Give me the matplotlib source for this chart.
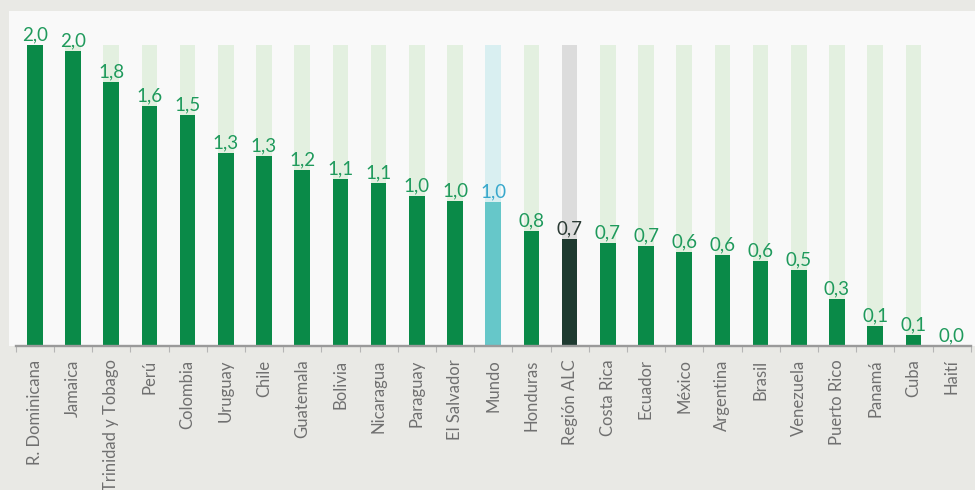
import matplotlib
matplotlib.use("Agg")
import matplotlib.pyplot as plt
from matplotlib.patches import Rectangle
from matplotlib.ticker import FixedLocator


# ------------------ DATA ------------------

countries = [
    "R. Dominicana", "Jamaica", "Trinidad y Tobago", "Perú", "Colombia",
    "Uruguay", "Chile", "Guatemala", "Bolivia", "Nicaragua", "Paraguay",
    "El Salvador", "Mundo", "Honduras", "Región ALC", "Costa Rica",
    "Ecuador", "México", "Argentina", "Brasil", "Venezuela", "Puerto Rico",
    "Panamá", "Cuba", "Haití",
]
values = [
    2.00, 1.96, 1.75, 1.59, 1.53,
    1.28, 1.26, 1.17, 1.11, 1.08, 0.996,
    0.96, 0.955, 0.76, 0.71, 0.68,
    0.66, 0.62, 0.60, 0.56, 0.50, 0.31,
    0.13, 0.07, 0.0,
]
# background track shown behind every bar except Haití
has_track = [True] * 24 + [False]
track_max = 2.0


# ------------------ STYLE ------------------

FONT = ["Lato", "DejaVu Sans"]
OUTER_BG = "#e9e9e5"
PANEL_BG = "#f9f9f9"

bar_colors = {"Mundo": "#66c7c9", "Región ALC": "#1e3a30"}
track_colors = {"Mundo": "#d9eff1", "Región ALC": "#dcdcdc"}
label_colors = {"Mundo": "#38a8cc", "Región ALC": "#2c3b35"}
DEFAULT_BAR = "#0a8a48"
DEFAULT_TRACK = "#e3f0e0"
DEFAULT_LABEL = "#1f9a5c"


def fmt(v):
    return f"{v:.1f}".replace(".", ",")


# ------------------ PLOTTING ------------------

fig = plt.figure(figsize=(9.75, 4.9), dpi=100, facecolor=OUTER_BG)

# light panel behind the plot area
panel = Rectangle((9 / 975, (490 - 346) / 490), 1, (346 - 11) / 490,
                  transform=fig.transFigure, facecolor=PANEL_BG,
                  edgecolor="none", zorder=-10)
fig.patches.append(panel)

left, right = 15.7 / 975, 970.7 / 975
bottom, top = (490 - 345.5) / 490, (490 - 11) / 490
ax = fig.add_axes([left, bottom, right - left, top - bottom])
ax.set_facecolor("none")

x = list(range(len(countries)))
width = 0.41

track_x = [i for i, t in zip(x, has_track) if t]
track_c = [track_colors.get(countries[i], DEFAULT_TRACK) for i in track_x]
ax.bar(track_x, [track_max] * len(track_x), width=width, color=track_c, zorder=1)

bar_c = [bar_colors.get(c, DEFAULT_BAR) for c in countries]
ax.bar(x, values, width=width, color=bar_c, zorder=2)

for i, (c, v) in enumerate(zip(countries, values)):
    ax.annotate(fmt(v), (i, v), xytext=(0, 3.3), textcoords="offset points",
                ha="center", va="baseline", fontsize=13.5, family=FONT,
                color=label_colors.get(c, DEFAULT_LABEL), zorder=3)

ax.set_xlim(-0.5, len(countries) - 0.5)
ax.set_ylim(0, track_max * 334.5 / 300.8)

for side in ["top", "right", "left"]:
    ax.spines[side].set_visible(False)
ax.spines["bottom"].set_color("#9a9a9a")
ax.spines["bottom"].set_linewidth(1.7)
ax.set_yticks([])

ax.set_xticks(x)
ax.set_xticklabels(countries, rotation=90, fontsize=12, family=FONT,
                   color="#707070", va="top")
ax.tick_params(axis="x", which="major", length=0, pad=10)
ax.xaxis.set_minor_locator(FixedLocator([i - 0.5 for i in range(len(countries) + 1)]))
ax.tick_params(axis="x", which="minor", length=4, width=0.8, color="#b5b5b5")

fig.savefig("out.png", dpi=100, facecolor=OUTER_BG)
